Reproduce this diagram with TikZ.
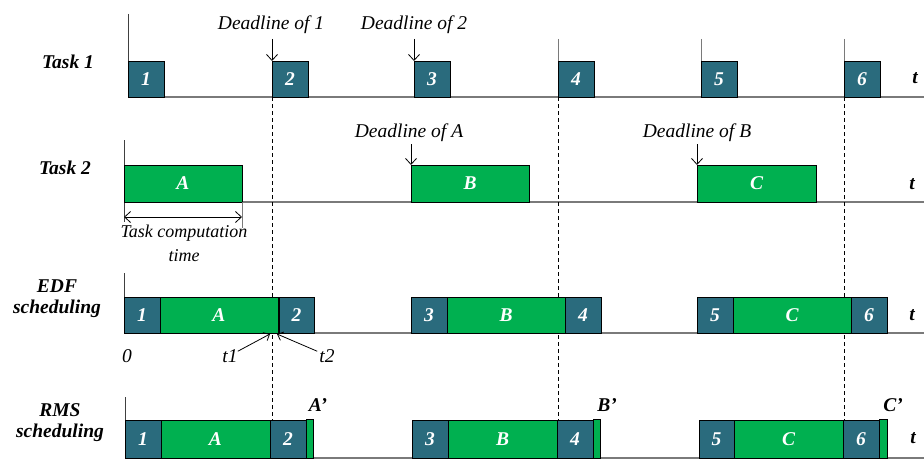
\documentclass[tikz,border=0pt]{standalone}
\usepackage{fontspec}
\setmainfont{Liberation Serif}
\usetikzlibrary{arrows.meta}
\definecolor{tealbox}{HTML}{2A6B7D}
\definecolor{grnbox}{HTML}{00B050}
\definecolor{axgray}{HTML}{7A7A7A}
\newcommand\labfont{\fontsize{19.5}{22}\selectfont\bfseries\itshape}
\newcommand\txtfont{\fontsize{19.5}{22}\selectfont\itshape}
\newcommand\smallfont{\fontsize{18}{20}\selectfont\itshape}
\tikzset{
  baseline axis/.style={draw=axgray, line width=1.6pt},
  vaxis/.style={draw=black!75, line width=1pt},
  tick/.style={draw=axgray, line width=1pt},
  tbox/.style={draw=black, line width=0.9pt, fill=tealbox, text=white, anchor=south west,
    inner sep=0pt, outer sep=0pt, font=\labfont, minimum height=36},
  gbox/.style={tbox, fill=grnbox},
  lbl/.style={font=\labfont, inner sep=0pt, align=center},
  txt/.style={font=\txtfont, inner sep=0pt},
  dlarrow/.style={draw=black, line width=0.8pt, -{Straight Barb[length=6pt,width=11pt]}},
  dimarrow/.style={draw=black, line width=0.8pt, {Straight Barb[length=6pt,width=11pt]}-{Straight Barb[length=6pt,width=11pt]}},
  deadline/.style={draw=black, line width=0.8pt, dashed, dash pattern=on 4pt off 3pt},
}
\begin{document}
\begin{tikzpicture}[x=1pt, y=-1pt]
\useasboundingbox (0,0) rectangle (924,460);

% ---------------- Task 1 ----------------
\draw[baseline axis] (128,97) -- (924,97);
\draw[vaxis] (128,14) -- (128,97);
\node[tbox, minimum width=36] (p1) at (128,97) {1};
\node[tbox, minimum width=36] (p2) at (272,97) {2};
\node[tbox, minimum width=36] (p3) at (414,97) {3};
\node[tbox, minimum width=36] (p4) at (558,97) {4};
\node[tbox, minimum width=36] (p5) at (701,97) {5};
\node[tbox, minimum width=36] (p6) at (844,97) {6};
\coordinate (d2top) at (272,39);
\coordinate (d3top) at (414,39);
\coordinate (d4top) at (558,39);
\coordinate (d5top) at (701,39);
\coordinate (d6top) at (844,39);
\draw[dlarrow] (d2top) -- (p2.north west);
\draw[dlarrow] (d3top) -- (p3.north west);
\draw[tick] (d4top) -- (p4.north west);
\draw[tick] (d5top) -- (p5.north west);
\draw[tick] (d6top) -- (p6.north west);
\node[txt] (dl1) at (271,25) {Deadline of 1};
\node[txt] (dl2) at (414,25) {Deadline of 2};
\node[lbl] (task1) at (68,62) {Task 1};
\node[lbl] (t1axis) at (915,78) {t};

% ---------------- Task 2 ----------------
\draw[baseline axis] (124,202) -- (924,202);
\draw[vaxis] (124,140) -- (124,222);
\node[gbox, minimum width=118, minimum height=37] (qA) at (124,202) {A};
\node[gbox, minimum width=118, minimum height=37] (qB) at (411,202) {B};
\node[gbox, minimum width=119, minimum height=37] (qC) at (697,202) {C};
\coordinate (dAtop) at (411,144);
\coordinate (dBtop) at (697,144);
\draw[dlarrow] (dAtop) -- (qB.north west);
\draw[dlarrow] (dBtop) -- (qC.north west);
\node[txt] (dlA) at (409,133) {Deadline of A};
\node[txt] (dlB) at (697,133) {Deadline of B};
\node[lbl] (task2) at (65,168) {Task 2};
\node[lbl] (t2axis) at (912,184) {t};
% computation time
\coordinate (ctL) at (124,217);
\coordinate (ctR) at (242,217);
\coordinate (ctRb) at (242,228);
\draw[tick] (qA.south east) -- (ctRb);
\draw[dimarrow] (ctL) -- (ctR);
\node[font=\smallfont, inner sep=0pt, align=center] (ctime) at (184,243) {Task computation\\[4pt]time};

% ---------------- deadline dashed lines ----------------
\coordinate (v1a) at (272,97);  \coordinate (v1b) at (272,420);
\coordinate (v2a) at (558,97);  \coordinate (v2b) at (558,420);
\coordinate (v3a) at (844,97);  \coordinate (v3b) at (844,420);
\draw[deadline] (v1a) -- (v1b);
\draw[deadline] (v2a) -- (v2b);
\draw[deadline] (v3a) -- (v3b);

% ---------------- EDF ----------------
\draw[baseline axis] (124,333) -- (924,333);
\draw[vaxis] (124,273) -- (124,333);
\node[tbox, minimum width=36]  (e1) at (124,333) {1};
\node[gbox, minimum width=118] (eA) at (160,333) {A};
\node[tbox, minimum width=35]  (e2) at (279,333) {2};
\node[tbox, minimum width=36]  (e3) at (411,333) {3};
\node[gbox, minimum width=118] (eB) at (447,333) {B};
\node[tbox, minimum width=36]  (e4) at (565,333) {4};
\node[tbox, minimum width=36]  (e5) at (697,333) {5};
\node[gbox, minimum width=118] (eC) at (733,333) {C};
\node[tbox, minimum width=36]  (e6) at (851,333) {6};
\node[lbl] (edf) at (57,299) {EDF\\[-1pt]scheduling};
\node[lbl] (t3axis) at (912,315) {t};
\node[txt] (zero) at (127,356) {0};
\node[txt] (tone) at (230,356) {t1};
\node[txt] (ttwo) at (327,356) {t2};
\coordinate (t1tip) at (270,334);
\coordinate (t2tip) at (277,334);
\draw[draw=black, line width=0.8pt, -{Straight Barb[length=5pt,width=9pt]}] (tone.north east) ++(0,2) -- (t1tip);
\draw[draw=black, line width=0.8pt, -{Straight Barb[length=5pt,width=9pt]}] (ttwo.north west) ++(-2,2) -- (t2tip);

% ---------------- RMS ----------------
\draw[baseline axis] (125,458) -- (924,458);
\draw[vaxis] (125,397) -- (125,458);
\node[tbox, minimum width=36, minimum height=38]  (r1) at (125,458) {1};
\node[gbox, minimum width=109, minimum height=38] (rA) at (161,458) {A};
\node[tbox, minimum width=36, minimum height=38]  (r2) at (270,458) {2};
\node[gbox, minimum width=7,  minimum height=39]  (rA2) at (306,458) {};
\node[tbox, minimum width=36, minimum height=38]  (r3) at (412,458) {3};
\node[gbox, minimum width=109, minimum height=38] (rB) at (448,458) {B};
\node[tbox, minimum width=36, minimum height=38]  (r4) at (557,458) {4};
\node[gbox, minimum width=7,  minimum height=39]  (rB2) at (593,458) {};
\node[tbox, minimum width=35, minimum height=38]  (r5) at (699,458) {5};
\node[gbox, minimum width=109, minimum height=38] (rC) at (734,458) {C};
\node[tbox, minimum width=36, minimum height=38]  (r6) at (843,458) {6};
\node[gbox, minimum width=8,  minimum height=39]  (rC2) at (879,458) {};
\node[lbl] (aprime) at (318,405) {A’};
\node[lbl] (bprime) at (607,405) {B’};
\node[lbl] (cprime) at (893,405) {C’};
\node[lbl] (rms) at (60,423) {RMS\\[-1pt]scheduling};
\node[lbl] (t4axis) at (913,438) {t};
\end{tikzpicture}
\end{document}
